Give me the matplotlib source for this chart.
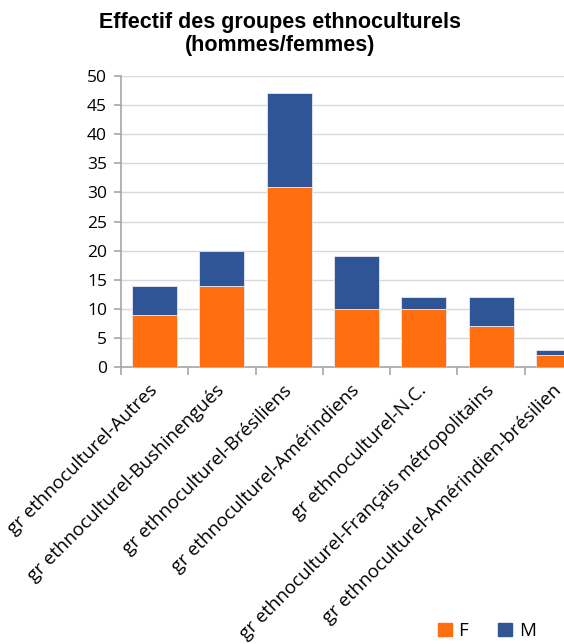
import numpy as np
import matplotlib
matplotlib.use("Agg")
import matplotlib.pyplot as plt
from matplotlib.patches import Patch

categories = [
    "gr ethnoculturel-Autres",
    "gr ethnoculturel-Bushinengués",
    "gr ethnoculturel-Brésiliens",
    "gr ethnoculturel-Amérindiens",
    "gr ethnoculturel-N.C.",
    "gr ethnoculturel-Français métropolitains",
    "gr ethnoculturel-Amérindien-brésilien",
]
femmes = [9, 14, 31, 10, 10, 7, 2]
hommes = [5, 6, 16, 9, 2, 5, 1]

orange = "#FF6F0F"
bleu = "#2F5597"

fig = plt.figure(figsize=(5.64, 6.44), dpi=100)
ax = fig.add_axes([121 / 564, 277 / 644, 471 / 564, 291 / 644])

x = np.arange(len(categories))
ax.bar(x, femmes, width=0.67, color=orange, edgecolor="#E8E8F0", linewidth=0.6, zorder=3)
ax.bar(x, hommes, bottom=femmes, width=0.67, color=bleu, edgecolor="#E8E8F0", linewidth=0.6, zorder=3)

ax.set_xlim(-0.5, len(categories) - 0.5)
ax.set_ylim(0, 50)
ax.set_yticks(range(0, 51, 5))
ax.yaxis.grid(True, color="#D9D9D9", linewidth=1, zorder=0)

for s in ["top", "right"]:
    ax.spines[s].set_visible(False)
for s in ["left", "bottom"]:
    ax.spines[s].set_color("#A6A6A6")
    ax.spines[s].set_linewidth(1.2)

ax.set_xticks(x)
ax.set_xticklabels(categories, rotation=45, ha="right", va="center",
                   rotation_mode="anchor", fontsize=13.5, family="Open Sans")
ax.tick_params(axis="x", length=0, pad=15)
ax.set_xticks(np.arange(-0.5, len(categories)), minor=True)
ax.tick_params(axis="x", which="minor", length=6, direction="out", color="#A6A6A6", width=1.2)
ax.tick_params(axis="y", length=5, direction="out", color="#A6A6A6", width=1.2,
               labelsize=12.5, pad=5)
for t in ax.get_yticklabels():
    t.set_family("Open Sans")

fig.text(0.497, 0.982, "Effectif des groupes ethnoculturels\n(hommes/femmes)",
         ha="center", va="top", fontsize=15.5, fontweight="bold",
         family="Liberation Sans", linespacing=1.15)

handles = [Patch(color=orange, label="F"), Patch(color=bleu, label="M")]
fig.legend(handles=handles, loc="lower right", bbox_to_anchor=(0.98, -0.02),
           ncol=2, frameon=False, prop={"family": "Open Sans", "size": 13.5},
           handlelength=0.75, handleheight=0.75, handletextpad=0.35, columnspacing=1.6)

fig.savefig("out.png", dpi=100)
